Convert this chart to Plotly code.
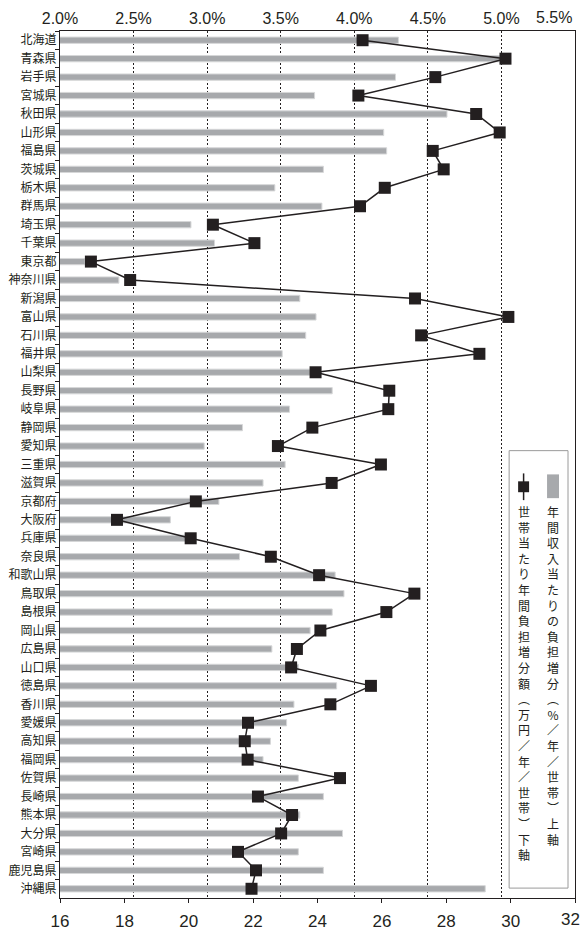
import plotly.graph_objects as go

# 都道府県（上から順に）
prefectures = [
    "北海道", "青森県", "岩手県", "宮城県", "秋田県", "山形県", "福島県", "茨城県",
    "栃木県", "群馬県", "埼玉県", "千葉県", "東京都", "神奈川県", "新潟県", "富山県",
    "石川県", "福井県", "山梨県", "長野県", "岐阜県", "静岡県", "愛知県", "三重県",
    "滋賀県", "京都府", "大阪府", "兵庫県", "奈良県", "和歌山県", "鳥取県", "島根県",
    "岡山県", "広島県", "山口県", "徳島県", "香川県", "愛媛県", "高知県", "福岡県",
    "佐賀県", "長崎県", "熊本県", "大分県", "宮崎県", "鹿児島県", "沖縄県",
]

# 年間収入当たりの負担増分（%／年／世帯）… 上軸
burden_pct = [
    4.30, 4.99, 4.28, 3.73, 4.63, 4.20, 4.22, 3.79,
    3.46, 3.78, 2.89, 3.05, 2.17, 2.40, 3.63, 3.74,
    3.67, 3.51, 3.74, 3.85, 3.56, 3.24, 2.98, 3.53,
    3.38, 3.08, 2.75, 2.92, 3.22, 3.87, 3.93, 3.85,
    3.70, 3.44, 3.62, 3.88, 3.59, 3.54, 3.43, 3.38,
    3.62, 3.79, 3.63, 3.92, 3.62, 3.79, 4.89,
]

# 世帯当たり年間負担増分額（万円／年／世帯）… 下軸
burden_yen = [
    25.40, 29.84, 27.66, 25.27, 28.93, 29.66, 27.58, 27.92,
    26.09, 25.32, 20.75, 22.04, 16.96, 18.18, 27.03, 29.93,
    27.22, 29.03, 23.94, 26.23, 26.20, 23.84, 22.77, 25.97,
    24.44, 20.22, 17.77, 20.06, 22.55, 24.05, 27.01, 26.14,
    24.09, 23.36, 23.18, 25.66, 24.40, 21.84, 21.74, 21.83,
    24.70, 22.15, 23.21, 22.87, 21.53, 22.09, 21.95,
]

top_tickvals = [2.0, 2.5, 3.0, 3.5, 4.0, 4.5, 5.0, 5.5]
top_ticktext = ["2.0%", "2.5%", "3.0%", "3.5%", "4.0%", "4.5%", "5.0%", "5.5%"]
bottom_tickvals = [16, 18, 20, 22, 24, 26, 28, 30, 32]
bottom_ticktext = ["16", "18", "20", "22", "24", "26", "28", "30", "32"]

legend_bar_text = "年間収入当たりの負担増分︵%／年／世帯︶上軸"
legend_line_text = "世帯当たり年間負担増分額︵万円／年／世帯︶下軸"

INK = "#231f20"
BAR = "#a7a9ac"
LATIN = "Liberation Sans, Arial, sans-serif"
CJK = "Noto Sans CJK JP"

W, H = 580, 935
ML, MR, MT, MB = 60, 4, 31, 28
PW, PH = W - ML - MR, H - MT - MB


def px(x):
    return (x - ML) / PW


def py(y):
    return 1 - (y - MT) / PH


fig = go.Figure()

# Bars: share of annual income (top axis, drawn first)
fig.add_trace(go.Bar(
    x=burden_pct, y=prefectures, orientation="h",
    xaxis="x", yaxis="y", base=0,
    width=0.34,
    marker=dict(color=BAR, line=dict(color="#d6d7d8", width=1)),
    hoverinfo="x+y",
))

# Line: yen per household (bottom axis, overlaid on top of bars)
fig.add_trace(go.Scatter(
    x=burden_yen, y=prefectures, xaxis="x2", yaxis="y",
    mode="lines+markers",
    line=dict(color=INK, width=1.5),
    marker=dict(symbol="square", size=12, color=INK, line=dict(width=0)),
))

# Edge labels that would otherwise run past the page edge
edge_top = top_ticktext[-1]
edge_bottom = bottom_ticktext[-1]
top_text_axis = top_ticktext[:-1] + [""]
bottom_text_axis = bottom_ticktext[:-1] + [""]

annotations = [
    dict(x=top_tickvals[-1], xref="x", y=py(17), yref="paper",
         text=edge_top, showarrow=False, xanchor="right", yanchor="middle",
         xshift=-1, font=dict(family=LATIN, size=16, color=INK)),
    dict(x=bottom_tickvals[-1], xref="x2", y=py(922), yref="paper",
         text=edge_bottom, showarrow=False, xanchor="center", yanchor="middle",
         xshift=-5, yshift=-7, font=dict(family=LATIN, size=17, color=INK)),
]

shapes = []

# Legend box
shapes.append(dict(type="rect", xref="paper", yref="paper",
                   x0=px(510), x1=px(569), y0=py(897), y1=py(455),
                   line=dict(color="#9a9a9a", width=1), fillcolor="white",
                   layer="above"))
# Bar swatch
shapes.append(dict(type="rect", xref="paper", yref="paper",
                   x0=px(548), x1=px(560), y0=py(503), y1=py(479),
                   line=dict(width=0), fillcolor=BAR, layer="above"))
# Line + marker swatch
shapes.append(dict(type="line", xref="paper", yref="paper",
                   x0=px(524.5), x1=px(524.5), y0=py(505), y1=py(478),
                   line=dict(color=INK, width=1.5), layer="above"))
shapes.append(dict(type="rect", xref="paper", yref="paper",
                   x0=px(519), x1=px(530), y0=py(497), y1=py(486),
                   line=dict(width=0), fillcolor=INK, layer="above"))


def vertical_text(text, cx, top, size=12):
    # one character per line gives top-to-bottom writing
    return dict(x=px(cx), y=py(top), xref="paper", yref="paper",
                text="<br>".join(text), showarrow=False,
                xanchor="center", yanchor="top", align="center",
                font=dict(family=CJK, size=size, color=INK))


annotations.append(vertical_text(legend_bar_text, 553.5, 506))
annotations.append(vertical_text(legend_line_text, 524.5, 506))

fig.update_layout(
    width=W, height=H,
    margin=dict(l=ML, r=MR, t=MT, b=MB),
    paper_bgcolor="white", plot_bgcolor="white",
    showlegend=False,
    xaxis=dict(
        range=[2.0, 5.5], tickvals=top_tickvals, ticktext=top_text_axis,
        side="top",
        showgrid=True, gridcolor=INK, gridwidth=1, griddash="2px,2px",
        zeroline=False, showline=True, linecolor=INK, linewidth=1,
        ticks="", tickfont=dict(family=LATIN, size=16, color=INK),
    ),
    xaxis2=dict(
        range=[16, 32], tickvals=bottom_tickvals, ticktext=bottom_text_axis,
        overlaying="x", side="bottom", anchor="y",
        showgrid=False, zeroline=False,
        showline=True, linecolor=INK, linewidth=1,
        ticks="outside", ticklen=4, tickcolor=INK,
        ticklabelstandoff=4,
        tickfont=dict(family=LATIN, size=17, color=INK),
    ),
    yaxis=dict(
        type="category", categoryorder="array", categoryarray=prefectures,
        range=[len(prefectures) - 0.5, -0.5], autorange=False,
        showline=True, mirror=True, linecolor=INK, linewidth=1,
        ticks="outside", ticklen=4, tickcolor=INK, tickson="boundaries",
        showgrid=False, zeroline=False,
        tickfont=dict(family=CJK, size=12, color=INK),
    ),
    bargap=0.6,
    shapes=shapes,
    annotations=annotations,
)

fig.write_html("out.html")
